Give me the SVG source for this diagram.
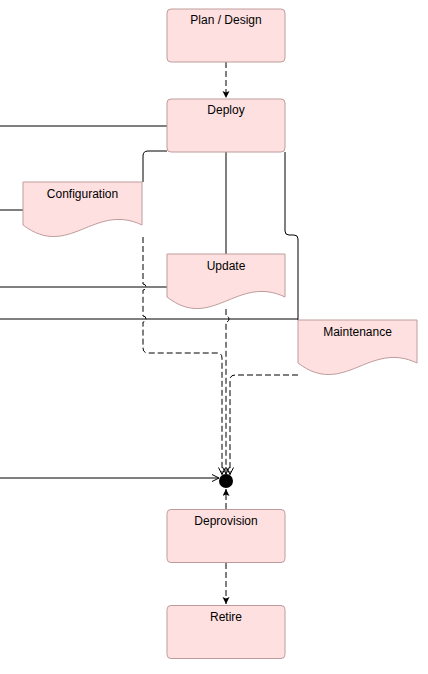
<svg xmlns="http://www.w3.org/2000/svg" width="428" height="674" viewBox="0 0 428 674">
<style>
.box{fill:#FFE0E0;stroke:#BF9C9C;stroke-width:1}
.lbl{font-family:"Liberation Sans",Arial,Helvetica,sans-serif;font-size:12px;fill:#000;text-anchor:middle}
.ln{fill:none;stroke:#000;stroke-width:1}
.dash{stroke-dasharray:6 3}
</style>
<defs>
<marker id="block" markerUnits="userSpaceOnUse" markerWidth="8" markerHeight="8" refX="7" refY="3.5" orient="auto">
<path d="M0,0 L7,3.5 L0,7 L1.5,3.5 z" fill="#000" stroke="none"/>
</marker>
<marker id="open" markerUnits="userSpaceOnUse" markerWidth="9" markerHeight="9" refX="7.5" refY="4" orient="auto">
<path d="M0.5,0.5 L7.5,4 L0.5,7.5" fill="none" stroke="#000" stroke-width="1" stroke-dasharray="none"/>
</marker>
</defs>
<rect width="428" height="674" fill="#fff"/>
<g id="connectors">
<path class="ln dash" d="M226,62 V98" marker-end="url(#block)"/>
<path class="ln" d="M0,126 H167"/>
<path class="ln" d="M0,210 H23"/>
<path class="ln" d="M0,287 H167"/>
<path class="ln" d="M0,319 H298"/>
<path class="ln" d="M285,152 V231 Q285,235 289,235 H294 Q298,235 298,239 V320"/>
<path class="ln" d="M226,152 V254"/>
<path class="ln" d="M167,151 H148 Q143,151 143,156 V182"/>
<path class="ln dash" d="M143,237 V284 a3,3 0 0 1 0,6 V316 a3,3 0 0 1 0,6 V348 Q143,353 148,353 H217 Q222,353 222,358 V474.5" marker-end="url(#open)"/>
<path class="ln dash" d="M226,309 V316 a3,3 0 0 1 0,6 V474" marker-end="url(#open)"/>
<path class="ln dash" d="M298,375 H235 Q230,375 230,380 V474.5" marker-end="url(#open)"/>
<path class="ln" d="M0,478 H219" marker-end="url(#open)"/>
<path class="ln dash" d="M226,509 V489" marker-end="url(#block)"/>
<path class="ln dash" d="M226,563 V604" marker-end="url(#block)"/>
</g>
<g id="junction">
<circle cx="226" cy="481" r="7" fill="#000"/>
</g>
<g id="plan">
<rect class="box" x="167" y="9" width="118" height="53" rx="4"/>
<text class="lbl" x="226" y="24">Plan / Design</text>
</g>
<g id="deploy">
<rect class="box" x="167" y="99" width="118" height="53" rx="4"/>
<text class="lbl" x="226" y="114">Deploy</text>
</g>
<g id="configuration">
<path class="box" d="M23,182 H142 V225 C94,202 69,260 23,225 Z"/>
<text class="lbl" x="82.5" y="198">Configuration</text>
</g>
<g id="update">
<path class="box" d="M167,254 H285 V297 C237,274 212,332 167,297 Z"/>
<text class="lbl" x="226" y="270">Update</text>
</g>
<g id="maintenance">
<path class="box" d="M298,320 H417 V363 C369,340 344,398 298,363 Z"/>
<text class="lbl" x="357.5" y="336">Maintenance</text>
</g>
<g id="deprovision">
<rect class="box" x="167" y="509.5" width="118" height="53" rx="4"/>
<text class="lbl" x="226" y="525">Deprovision</text>
</g>
<g id="retire">
<rect class="box" x="167" y="605.5" width="118" height="53" rx="4"/>
<text class="lbl" x="226" y="621">Retire</text>
</g>
</svg>
